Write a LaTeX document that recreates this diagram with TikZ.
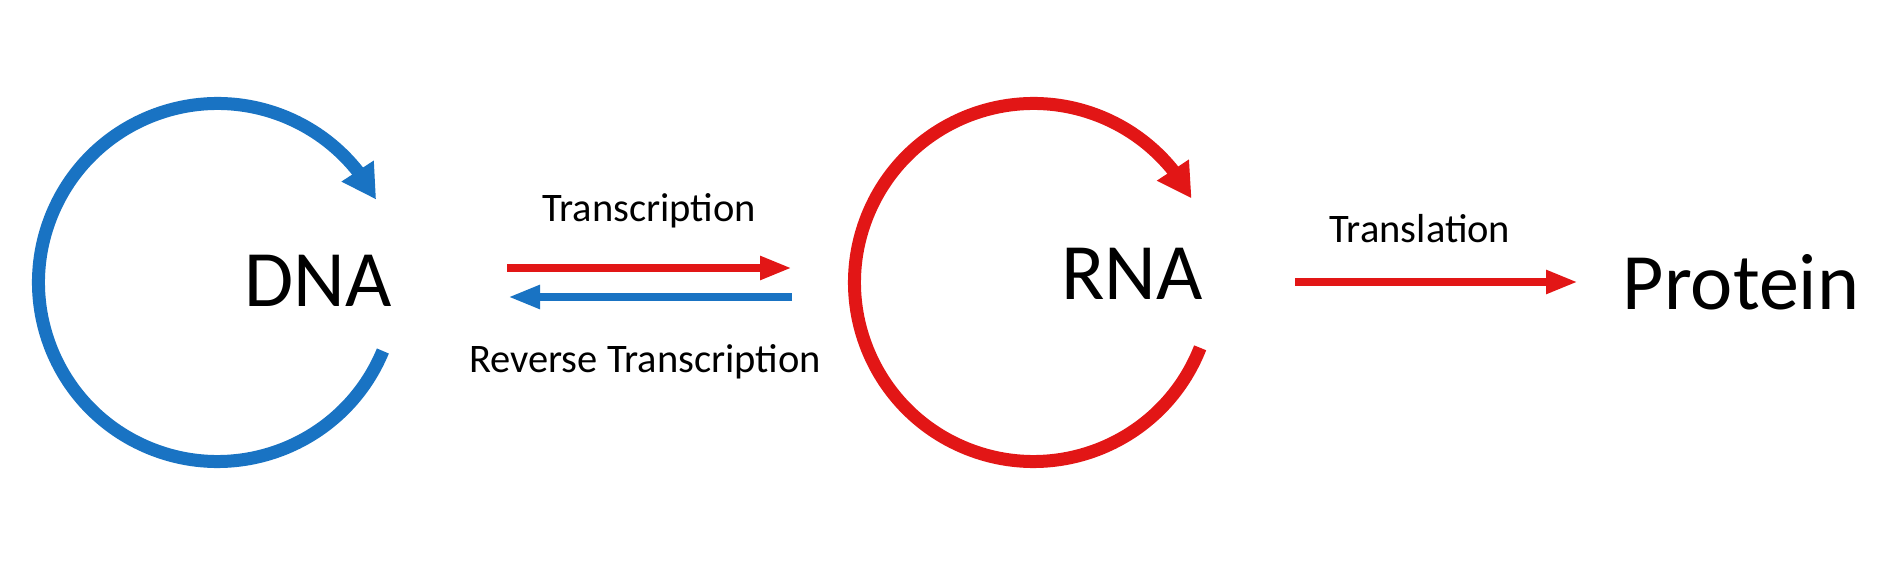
\documentclass[tikz,border=0pt]{standalone}
\usepackage{fontspec}
\setmainfont{Carlito}
\usetikzlibrary{arrows.meta,bending}

\definecolor{dnablue}{RGB}{25,115,195}
\definecolor{rnared}{RGB}{226,22,22}

\tikzset{
	cyclearc/.style={line width=13pt, -{Triangle[length=34pt,width=36pt,flex]}},
	flowarrow/.style={line width=8pt, -{Triangle[length=32pt,width=22pt]}},
	bigtext/.style={font=\fontsize{80}{96}\selectfont, anchor=base, inner sep=0pt},
	smalltext/.style={font=\fontsize{40.5}{48}\selectfont, anchor=base, inner sep=0pt}
}

\begin{document}
\begin{tikzpicture}[x=1pt,y=1pt]

	\useasboundingbox (0,0) rectangle (1896,573);

	% circular arrows
	\draw[cyclearc, dnablue] (217.5,290.5) ++(-22.5:179) arc[start angle=-22.5, end angle=-332.4, radius=179];
	\draw[cyclearc, rnared] (1033.5,290.5) ++(-21.4:179) arc[start angle=-21.4, end angle=-332, radius=179];

	% names
	\node[bigtext] (dna) at (318,266) {DNA};
	\node[bigtext] (rna) at (1132,273) {RNA};
	\node[bigtext] (protein) at (1741,263) {Protein};

	% arrow ends
	\coordinate (tsA) at (507,305);
	\coordinate (tsB) at (792,305);
	\coordinate (rtA) at (792,276);
	\coordinate (rtB) at (508,276);
	\coordinate (tlA) at (1295,291);
	\coordinate (tlB) at (1578,291);

	\draw[flowarrow, rnared] (tsA) -- (tsB);
	\draw[flowarrow, dnablue] (rtA) -- (rtB);
	\draw[flowarrow, rnared] (tlA) -- (tlB);

	\node[smalltext] (transcription) at (649,351) {Transcription};
	\node[smalltext] (reverse) at (645,200) {Reverse Transcription};
	\node[smalltext] (translation) at (1420,330) {Translation};

\end{tikzpicture}
\end{document}
